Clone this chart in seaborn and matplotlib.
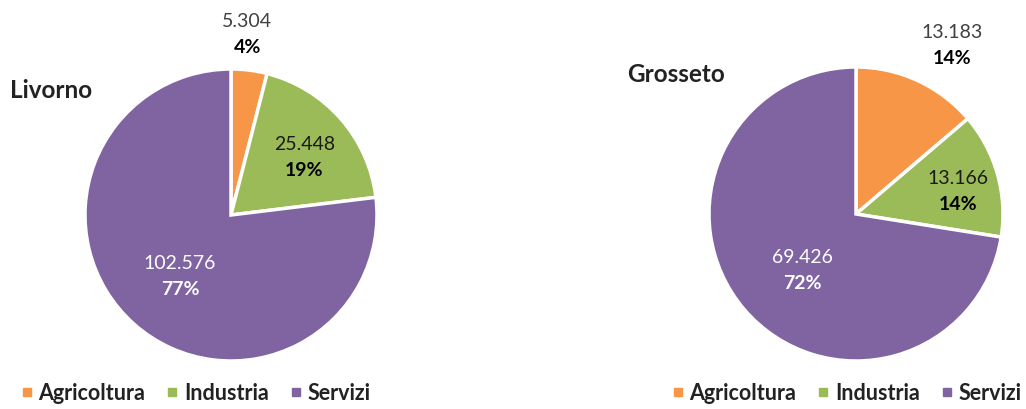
import numpy as np
import matplotlib
matplotlib.use("Agg")
import matplotlib.pyplot as plt
from matplotlib.lines import Line2D
import seaborn as sns

sns.set_theme(style="white")
plt.rcParams['font.family'] = ['Lato', 'DejaVu Sans']

# ---- data ----
categories = ["Agricoltura", "Industria", "Servizi"]
livorno_values = [5304, 25448, 102576]
grosseto_values = [13183, 13166, 69426]
titles = ["Livorno", "Grosseto"]
colors = ["#F79646", "#9BBB59", "#8064A2"]
value_colors = ["#404040", "#1a1a1a", "white"]
pct_colors = ["black", "black", "white"]

W, H = 1026, 409
fig = plt.figure(figsize=(W / 100, H / 100), dpi=100)
fig.patch.set_facecolor("white")

# pie placement (pixels): center x, center y, radius; label distance and angle nudge
panels = [
    dict(vals=livorno_values, title=titles[0], cx=231, cy=215, r=146,
         dist=[1.24, 0.64, 0.55], nudge=[2, -3, 2], tx=10, ty=91, legx=196),
    dict(vals=grosseto_values, title=titles[1], cx=856, cy=214, r=147,
         dist=[1.32, 0.71, 0.53], nudge=[-5, -3, 6], tx=627, ty=75, legx=847),
]

def fmt(v):
    return f"{v:,}".replace(",", ".")

for p in panels:
    r = p["r"]
    ax = fig.add_axes([(p["cx"] - r) / W, (H - p["cy"] - r) / H, 2 * r / W, 2 * r / H])
    vals = np.array(p["vals"], dtype=float)
    wedges, _ = ax.pie(vals, colors=colors, startangle=90, counterclock=False,
                       radius=1.0, wedgeprops=dict(edgecolor="white", linewidth=2.5))
    ax.set_xlim(-1, 1)
    ax.set_ylim(-1, 1)
    ax.set_aspect("auto")
    ax.axis("off")
    total = vals.sum()
    off = 13.0 / r
    for i, (w, v) in enumerate(zip(wedges, vals)):
        ang = np.deg2rad((w.theta1 + w.theta2) / 2 + p["nudge"][i])
        d = p["dist"][i]
        x, y = d * np.cos(ang), d * np.sin(ang)
        pct = int(round(v / total * 100))
        ax.text(x, y + off, fmt(int(v)), ha="center", va="center",
                fontsize=14, color=value_colors[i], clip_on=False)
        ax.text(x, y - off, f"{pct}%", ha="center", va="center",
                fontsize=14, fontweight="bold", color=pct_colors[i], clip_on=False)
    fig.text(p["tx"] / W, 1 - p["ty"] / H, p["title"], ha="left", va="center",
             fontsize=17.5, fontweight="bold", color="#222222")
    handles = [Line2D([0], [0], marker="s", linestyle="", markersize=5.5,
                      markerfacecolor=c, markeredgecolor=c) for c in colors]
    fig.legend(handles, categories, loc="center", ncol=3, frameon=False,
               bbox_to_anchor=(p["legx"] / W, 1 - 393 / H),
               prop=dict(weight="bold", size=15.5), handlelength=0.5,
               handletextpad=0.3, columnspacing=1.0, labelcolor="#222222")

fig.savefig("out.png", dpi=100, facecolor="white")
